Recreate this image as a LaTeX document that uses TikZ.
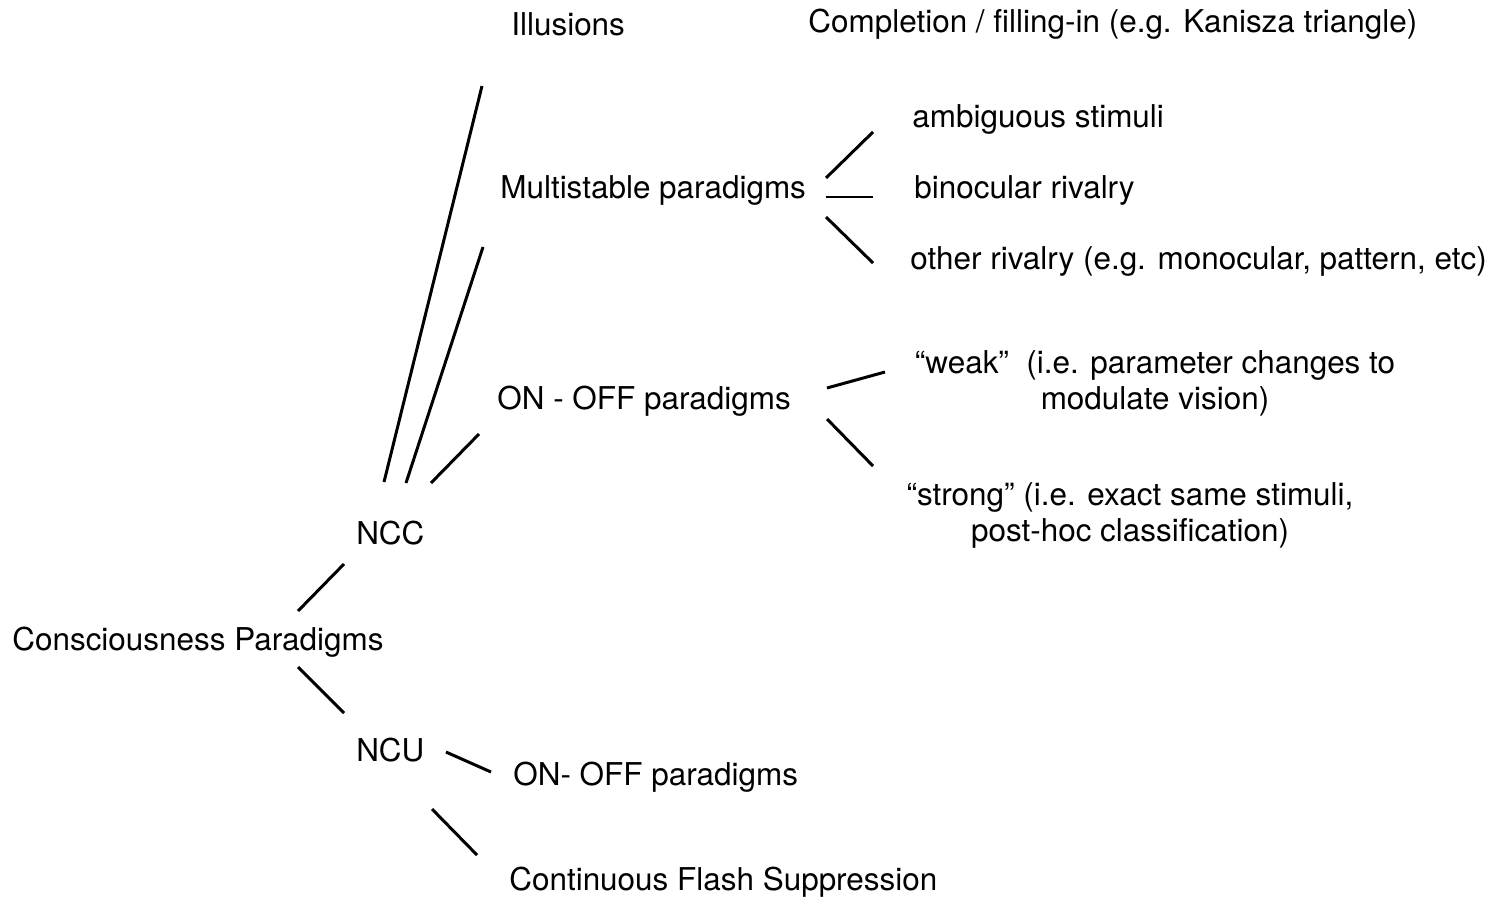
\documentclass[tikz,border=0pt]{standalone}
\usepackage{fontspec}
\setmainfont{TeX Gyre Heros}
\usepackage{tikz}

\begin{document}
\begin{tikzpicture}[x=0.02cm,y=-0.02cm,
  every node/.style={inner sep=0pt,font=\fontsize{17.9}{20.5}\selectfont},
  item/.style={anchor=west,yshift=-0.05cm},
  twoline/.style={align=center,yshift=-0.05cm},
  branch/.style={line width=1.7pt}
]
\useasboundingbox (0,0) rectangle (1500,909);
% tree labels
\node[item] (cp) at (12,640) {Consciousness Paradigms};
\node[item] (ncc) at (356,531) {NCC};
\node[item] (ncu) at (356,748) {NCU};
\node[item] (ill) at (511,22) {Illusions};
\node[item] (comp) at (808,22) {Completion / filling-in (e.g. Kanisza triangle)};
\node[item] (multi) at (500,188) {Multistable paradigms};
\node[item] (amb) at (912,117) {ambiguous stimuli};
\node[item] (bino) at (914,188) {binocular rivalry};
\node[item] (other) at (910,259) {other rivalry (e.g. monocular, pattern, etc)};
\node[item] (onoff) at (497,399) {ON - OFF paradigms};
\node[twoline] (weak) at (1155,381) {``weak''\ \ (i.e. parameter changes to\\modulate vision)};
\node[twoline] (strong) at (1130,513) {``strong'' (i.e. exact same stimuli,\\post-hoc classification)};
\node[item] (onoffu) at (513,775) {ON- OFF paradigms};
\node[item] (cfs) at (509,880) {Continuous Flash Suppression};
% ends of the branches
\coordinate (cp-ncc-a) at (298,611);  \coordinate (cp-ncc-b) at (344,564);
\coordinate (cp-ncu-a) at (298,667);  \coordinate (cp-ncu-b) at (344,713);
\coordinate (ncc-ill-a) at (384,482); \coordinate (ncc-ill-b) at (482,86);
\coordinate (ncc-multi-a) at (406,483); \coordinate (ncc-multi-b) at (483,247);
\coordinate (ncc-onoff-a) at (431,483); \coordinate (ncc-onoff-b) at (479,434);
\coordinate (multi-amb-a) at (826,178); \coordinate (multi-amb-b) at (873,132);
\coordinate (multi-bino-a) at (826,197); \coordinate (multi-bino-b) at (873,197);
\coordinate (multi-other-a) at (826,217); \coordinate (multi-other-b) at (873,263);
\coordinate (onoff-weak-a) at (827,388); \coordinate (onoff-weak-b) at (885,372);
\coordinate (onoff-strong-a) at (827,419); \coordinate (onoff-strong-b) at (873,466);
\coordinate (ncu-onoffu-a) at (446,752); \coordinate (ncu-onoffu-b) at (491,772);
\coordinate (ncu-cfs-a) at (432,809); \coordinate (ncu-cfs-b) at (477,855);
\foreach \p in {cp-ncc,cp-ncu,ncc-ill,ncc-multi,ncc-onoff,multi-amb,multi-bino,
  multi-other,onoff-weak,onoff-strong,ncu-onoffu,ncu-cfs}
  \draw[branch] (\p-a) -- (\p-b);
\end{tikzpicture}
\end{document}
